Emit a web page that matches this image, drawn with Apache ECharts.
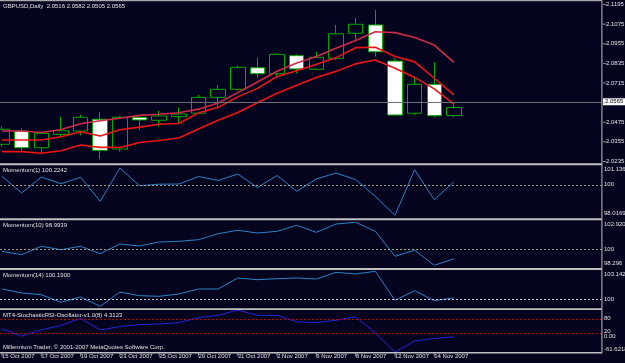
<!DOCTYPE html>
<html><head><meta charset="utf-8">
<script src="https://cdn.jsdelivr.net/npm/echarts@6/dist/echarts.min.js"></script>
<style>html,body{margin:0;padding:0;background:#04041e;}#c{width:625px;height:363px;}</style>
</head><body><div id="c"></div>
<script>
const symbolName = 'GBPUSD,Daily';
const dates = ['15 Oct 2007','16 Oct 2007','17 Oct 2007','18 Oct 2007','19 Oct 2007','22 Oct 2007','23 Oct 2007','24 Oct 2007','25 Oct 2007','26 Oct 2007','29 Oct 2007','30 Oct 2007','31 Oct 2007','1 Nov 2007','2 Nov 2007','5 Nov 2007','6 Nov 2007','7 Nov 2007','8 Nov 2007','9 Nov 2007','12 Nov 2007','13 Nov 2007','14 Nov 2007','15 Nov 2007'];
const open  = [2.0340,2.0421,2.0319,2.0401,2.0421,2.0493,2.0311,2.0505,2.0487,2.0509,2.0530,2.0627,2.0676,2.0808,2.0772,2.0882,2.0799,2.0866,2.1019,2.1070,2.0849,2.0530,2.0707,2.0516];
const high  = [2.0450,2.0438,2.0415,2.0509,2.0520,2.0536,2.0513,2.0508,2.0545,2.0565,2.0642,2.0703,2.0823,2.0870,2.0897,2.0890,2.0906,2.1070,2.1114,2.1161,2.0866,2.0753,2.0841,2.0582];
const low   = [2.0325,2.0295,2.0279,2.0386,2.0395,2.0250,2.0295,2.0428,2.0448,2.0472,2.0525,2.0560,2.0668,2.0747,2.0758,2.0774,2.0795,2.0855,2.0978,2.0876,2.0519,2.0519,2.0505,2.0505];
const close = [2.0432,2.0319,2.0407,2.0423,2.0505,2.0303,2.0505,2.0489,2.0513,2.0525,2.0627,2.0676,2.0811,2.0772,2.0890,2.0801,2.0872,2.1016,2.1074,2.0906,2.0519,2.0707,2.0515,2.0565];
const maHigh  = [2.0421,2.0421,2.0412,2.0430,2.0466,2.0484,2.0499,2.0517,2.0524,2.0533,2.0555,2.0593,2.0656,2.0721,2.0787,2.0837,2.0877,2.0927,2.0975,2.1028,2.1023,2.0993,2.0947,2.0841];
const maClose = [2.0366,2.0366,2.0366,2.0386,2.0417,2.0391,2.0429,2.0445,2.0463,2.0467,2.0532,2.0566,2.0630,2.0682,2.0755,2.0790,2.0829,2.0870,2.0931,2.0934,2.0877,2.0844,2.0744,2.0642];
const maLow   = [2.0295,2.0295,2.0285,2.0301,2.0336,2.0321,2.0321,2.0351,2.0363,2.0379,2.0434,2.0487,2.0535,2.0594,2.0652,2.0701,2.0748,2.0786,2.0832,2.0856,2.0805,2.0749,2.0679,2.0585];
const mom1  = [100.589,99.486,100.542,100.100,100.522,98.938,101.1364,99.968,100.067,100.080,100.575,100.311,100.740,99.849,100.641,99.598,100.410,100.806,100.364,99.268,98.0169,101.024,99.044,100.2242];
const mom10 = [99.803,99.437,100.340,99.975,100.340,99.545,100.588,100.373,100.803,100.878,101.050,101.695,102.061,101.770,101.953,102.598,101.846,102.738,102.9209,101.953,99.265,99.910,98.296,98.9939];
const mom14 = [101.173,100.728,100.539,99.694,100.283,99.2472,100.839,100.428,100.361,100.617,101.173,101.173,102.397,102.208,102.319,102.397,102.286,103.031,102.842,103.142,99.916,100.984,99.872,100.19];
const stochRsi = [39.3,7.5,35.2,53.6,85.0,34.0,49.4,57.8,60.3,66.1,88.3,97.9,121.3779,97.9,97.9,70.3,66.1,77.0,91.2,21.3,-61.6218,-13.4,-2.5,4.3123];
const priceTicks = [2.0235,2.0355,2.0475,2.0595,2.0715,2.0835,2.0955,2.1075,2.1195];
const mom1Ticks  = [98.0169,100,101.1364];
const mom10Ticks = [98.296,100,102.9209];
const mom14Ticks = [99.2472,100,103.142];
const stochTicks = [-61.6218,0,20,80,121.3779];
const stochLevels = [80,20];
const dateTickIdx = [0,2,4,6,8,10,12,14,16,18,20,22];

const FONT = 'Liberation Sans';
const BG = '#04041e';
const TXT = '#e2e2e2';
const GREEN = '#00a800';
const XMIN = -0.1, XMAX = 30.536;

const rich = {};
for (let s = -10; s <= 10; s++) {
  rich['s' + (s + 10)] = {fontSize: 6, color: TXT, fontFamily: FONT,
    padding: [Math.max(0, 2 * s), 0, Math.max(0, -2 * s), 0]};
}
function yAxisFor(gi, min, max, ticks, shifts, fmt, margin) {
  return {
    type: 'value', gridIndex: gi, position: 'right', min: min, max: max,
    splitLine: {show: false}, axisLine: {show: false}, axisTick: {show: false},
    axisLabel: {
      show: true, customValues: ticks, hideOverlap: false, margin: margin,
      fontSize: 6, color: TXT, fontFamily: FONT,
      formatter: function (v) {
        const i = ticks.findIndex(t => Math.abs(t - v) < 1e-7);
        const s = i >= 0 ? shifts[i] : 0;
        return '{s' + (s + 10) + '|' + fmt(v) + '}';
      },
      rich: rich
    }
  };
}
function xAxisFor(gi, last) {
  return {
    type: 'value', gridIndex: gi, min: XMIN, max: XMAX,
    splitLine: {show: false}, axisLine: {show: false}, axisTick: {show: false},
    axisLabel: {show: !!last, customValues: dateTickIdx, align: 'left', margin: 1,
      fontSize: 6, color: TXT, fontFamily: FONT, hideOverlap: false,
      formatter: v => dates[Math.round(v)] || ''}
  };
}
const pts = arr => arr.map((v, i) => [i, v]);
const grid = (top, height) => ({left: 0, width: 602, top: top, height: height, containLabel: false, outerBoundsMode: 'none'});
const dotted = (v, color) => ({yAxis: v, lineStyle: {color: color, type: [2, 2], width: 1}});

const chart = echarts.init(document.getElementById('c'), null, {renderer: 'canvas'});
const lastIdx = close.length - 1;
const header = symbolName + '  ' + [open[lastIdx], high[lastIdx], low[lastIdx], close[lastIdx]].map(v => v.toFixed(4)).join(' ');
const txt = (x, y, s) => ({type: 'text', left: x, top: y, z: 100, style: {text: s, fill: TXT, fontSize: 6, fontFamily: FONT}});
const rect = (x, y, w, h, c) => ({type: 'rect', z: 90, shape: {x: x, y: y, width: w, height: h}, style: {fill: c}});

chart.setOption({
  animation: false,
  backgroundColor: BG,
  grid: [grid(2, 161), grid(168, 47.3), grid(222.3, 43), grid(271.3, 35), grid(310, 42)],
  xAxis: [xAxisFor(0), xAxisFor(1), xAxisFor(2), xAxisFor(3), xAxisFor(4, true)],
  yAxis: [
    yAxisFor(0, 2.02256, 2.12103, priceTicks, priceTicks.map(() => 0), v => v.toFixed(4), 4),
    yAxisFor(1, mom1Ticks[0], mom1Ticks[2], mom1Ticks, [-2, -1, 1], v => String(v), 2),
    yAxisFor(2, mom10Ticks[0], mom10Ticks[2], mom10Ticks, [-2, 0, 2], v => String(v), 2),
    yAxisFor(3, mom14Ticks[0], mom14Ticks[2], mom14Ticks, [-4, 0, 3], v => String(v), 2),
    yAxisFor(4, stochTicks[0], stochTicks[4], stochTicks, [-3, -2, -2, -1, 3], v => (v === 0 ? '0.00' : String(v)), 2)
  ],
  series: [
    {type: 'candlestick', xAxisIndex: 0, yAxisIndex: 0, barWidth: 15,
     data: dates.map((d, i) => [i, open[i], close[i], low[i], high[i]]),
     encode: {x: 0, y: [1, 2, 3, 4]},
     itemStyle: {color: BG, color0: '#ffffff', borderColor: GREEN, borderColor0: GREEN, borderWidth: 1},
     markLine: {symbol: 'none', silent: true, animation: false,
       data: [{yAxis: close[lastIdx]}],
       lineStyle: {color: '#6e6e78', type: 'solid', width: 1},
       label: {position: 'end', formatter: close[lastIdx].toFixed(4), backgroundColor: '#ffffff', color: '#000000',
               fontSize: 6, fontFamily: FONT, padding: [1, 2, 0, 2], distance: 1}}},
    {type: 'line', xAxisIndex: 0, yAxisIndex: 0, data: pts(maHigh), symbol: 'none', lineStyle: {color: '#cf2a48', width: 1.6}, z: 3},
    {type: 'line', xAxisIndex: 0, yAxisIndex: 0, data: pts(maClose), symbol: 'none', lineStyle: {color: '#f01414', width: 1.6}, z: 3},
    {type: 'line', xAxisIndex: 0, yAxisIndex: 0, data: pts(maLow), symbol: 'none', lineStyle: {color: '#f01414', width: 1.6}, z: 3},
    {type: 'scatter', xAxisIndex: 0, yAxisIndex: 0, clip: false, silent: true, symbol: 'rect', symbolSize: [3, 1], symbolOffset: [2.5, 0],
     itemStyle: {color: '#b0b0b0'}, data: priceTicks.map(v => [XMAX, v]), z: 5},
    {type: 'scatter', xAxisIndex: 4, yAxisIndex: 4, clip: false, silent: true, symbol: 'rect', symbolSize: [1, 4], symbolOffset: [0, 2.5],
     itemStyle: {color: '#b0b0b0'}, data: dateTickIdx.map(i => [i, stochTicks[0]]), z: 5},
    {type: 'line', xAxisIndex: 1, yAxisIndex: 1, data: pts(mom1), symbol: 'none', lineStyle: {color: '#2a84c8', width: 1},
     markLine: {symbol: 'none', silent: true, label: {show: false}, data: [dotted(100, '#a8a07a')]}},
    {type: 'line', xAxisIndex: 2, yAxisIndex: 2, data: pts(mom10), symbol: 'none', lineStyle: {color: '#2a84c8', width: 1},
     markLine: {symbol: 'none', silent: true, label: {show: false}, data: [dotted(100, '#a8a07a')]}},
    {type: 'line', xAxisIndex: 3, yAxisIndex: 3, data: pts(mom14), symbol: 'none', lineStyle: {color: '#2a84c8', width: 1},
     markLine: {symbol: 'none', silent: true, label: {show: false}, data: [dotted(100, '#d0d0d0')]}},
    {type: 'line', xAxisIndex: 4, yAxisIndex: 4, data: pts(stochRsi), symbol: 'none', lineStyle: {color: '#2626d8', width: 1},
     markLine: {symbol: 'none', silent: true, label: {show: false}, data: stochLevels.map(v => dotted(v, '#c80000'))}}
  ],
  graphic: [
    rect(0, 0, 602, 1.2, '#a8a8a8'),
    rect(0, 163.3, 602, 2, '#c0c0c0'),
    rect(0, 218.3, 602, 2, '#c0c0c0'),
    rect(0, 268, 602, 2, '#c0c0c0'),
    rect(0, 308.3, 602, 1.8, '#c0c0c0'),
    rect(0, 352, 602, 1.4, '#c0c0c0'),
    rect(601.3, 0, 1.2, 353.4, '#a0a0a0'),
    txt(3, 3, header),
    txt(3, 167, 'Momentum(1) ' + mom1[lastIdx].toFixed(4)),
    txt(3, 222.5, 'Momentum(10) ' + mom10[lastIdx].toFixed(4)),
    txt(3, 272.5, 'Momentum(14) ' + mom14[lastIdx].toFixed(4)),
    txt(3, 312, 'MT4-StochasticRSI-Oscillator-v1.0(8) ' + stochRsi[lastIdx].toFixed(4)),
    txt(3, 344, 'Millennium Trader, \u00a9 2001-2007 MetaQuotes Software Corp.')
  ]
});
</script></body></html>
